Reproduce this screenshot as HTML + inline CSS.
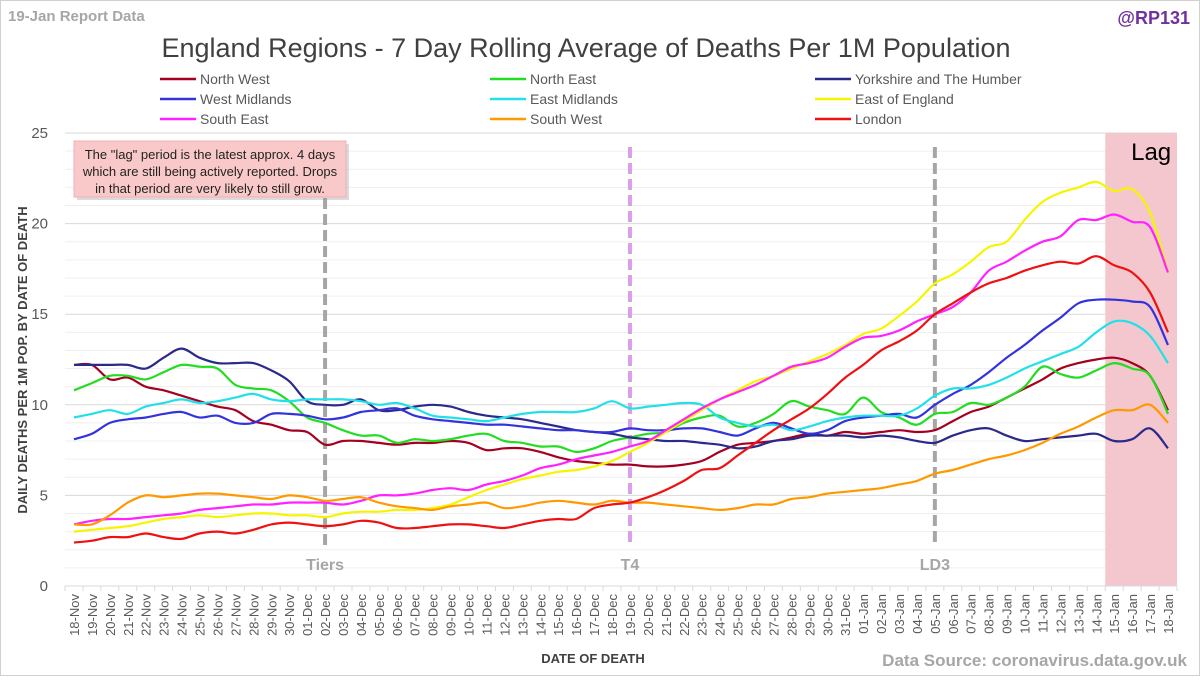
<!DOCTYPE html>
<html><head><meta charset="utf-8"><style>
html,body{margin:0;padding:0;background:#fff;}
body{width:1200px;height:676px;overflow:hidden;font-family:"Liberation Sans",sans-serif;}
</style></head><body>
<svg id="chart" width="1200" height="676" viewBox="0 0 1200 676" xmlns="http://www.w3.org/2000/svg">
<rect x="0.5" y="0.5" width="1199" height="675" fill="#fff" stroke="#d0d0d0"/>
<text x="8" y="21" font-size="15" font-weight="bold" fill="#a6a6a6">19-Jan Report Data</text>
<text x="1190" y="24" font-size="18" font-weight="bold" fill="#7030a0" text-anchor="end">@RP131</text>
<text x="586" y="57" font-size="27" fill="#404040" text-anchor="middle">England Regions - 7 Day Rolling Average of Deaths Per 1M Population</text>
<g id="grid"></g>
<rect id="lagband" fill="#f4c7cf"/>
<text id="lagtext" font-size="24" fill="#000" text-anchor="middle">Lag</text>
<g id="events"></g>
<g id="series"></g>
<g id="axes"></g>
<g id="legend"></g>
<g>
<rect x="77" y="144" width="272" height="56" fill="#999" opacity="0.35"/>
<rect x="74" y="141" width="272" height="56" fill="#f9c9c9" stroke="#f0b0b0"/>
<text x="210" y="159" font-size="13" fill="#222" text-anchor="middle">The "lag" period is the latest approx. 4 days</text>
<text x="210" y="176" font-size="13" fill="#222" text-anchor="middle">which are still being actively reported. Drops</text>
<text x="210" y="193" font-size="13" fill="#222" text-anchor="middle">in that period are very likely to still grow.</text>
</g>
<text x="0" y="0" transform="translate(27,360) rotate(-90)" font-size="13" font-weight="bold" fill="#404040" text-anchor="middle">DAILY DEATHS PER 1M POP. BY DATE OF DEATH</text>
<text x="593" y="663" font-size="13" font-weight="bold" fill="#404040" text-anchor="middle">DATE OF DEATH</text>
<text x="1187" y="666" font-size="17" font-weight="bold" fill="#a6a6a6" text-anchor="end">Data Source: coronavirus.data.gov.uk</text>
</svg>
<script>
const dates = ["18-Nov","19-Nov","20-Nov","21-Nov","22-Nov","23-Nov","24-Nov","25-Nov","26-Nov","27-Nov","28-Nov","29-Nov","30-Nov","01-Dec","02-Dec","03-Dec","04-Dec","05-Dec","06-Dec","07-Dec","08-Dec","09-Dec","10-Dec","11-Dec","12-Dec","13-Dec","14-Dec","15-Dec","16-Dec","17-Dec","18-Dec","19-Dec","20-Dec","21-Dec","22-Dec","23-Dec","24-Dec","25-Dec","26-Dec","27-Dec","28-Dec","29-Dec","30-Dec","31-Dec","01-Jan","02-Jan","03-Jan","04-Jan","05-Jan","06-Jan","07-Jan","08-Jan","09-Jan","10-Jan","11-Jan","12-Jan","13-Jan","14-Jan","15-Jan","16-Jan","17-Jan","18-Jan"];
const yTicks = [0,5,10,15,20,25];
const seriesNames = ["North West","North East","Yorkshire and The Humber","West Midlands","East Midlands","East of England","South East","South West","London"];
const seriesColors = ["#a50021","#22dd22","#2a2a8a","#3333dd","#22e0e8","#f5f500","#ff22ff","#ff9900","#ee1111"];
const northWest = [12.2,12.2,11.4,11.5,11.0,10.8,10.5,10.2,9.9,9.7, 9.1,8.9,8.6,8.5,7.8,8.0,8.0,7.9,7.8,7.9, 7.9,8.0,7.9,7.5,7.6,7.6,7.4,7.1,6.9,6.8, 6.7,6.7,6.6,6.6,6.7,6.9,7.4,7.8,7.9,8.0, 8.2,8.4,8.3,8.5,8.4,8.5,8.6,8.5,8.6,9.1, 9.6,9.9,10.4,10.9,11.4,12.0,12.3,12.5,12.6,12.3, 11.6,9.7];
const northEast = [10.8,11.2,11.6,11.6,11.4,11.8,12.2,12.1,12.0,11.1, 10.9,10.8,10.2,9.3,9.0,8.6,8.3,8.3,7.9,8.1, 8.0,8.1,8.3,8.4,8.0,7.9,7.7,7.7,7.4,7.6, 8.0,8.2,8.4,8.5,9.0,9.3,9.4,8.8,9.0,9.5, 10.2,9.9,9.7,9.5,10.4,9.6,9.3,8.9,9.5,9.6, 10.1,10.0,10.4,11.0,12.1,11.7,11.5,11.9,12.3,12.0, 11.6,9.5];
const yorkshire = [12.2,12.2,12.2,12.2,12.0,12.6,13.1,12.6,12.3,12.3, 12.3,11.9,11.3,10.2,10.0,10.0,10.3,9.7,9.7,9.9, 10.0,9.9,9.6,9.4,9.3,9.2,9.0,8.8,8.6,8.5, 8.4,8.2,8.1,8.0,8.0,7.9,7.8,7.6,7.7,8.0, 8.1,8.3,8.3,8.3,8.2,8.3,8.2,8.0,7.9,8.3, 8.6,8.7,8.3,8.0,8.1,8.2,8.3,8.4,8.0,8.1, 8.7,7.6];
const westMidlands = [8.1,8.4,9.0,9.2,9.3,9.5,9.6,9.3,9.4,9.0, 9.0,9.5,9.5,9.4,9.2,9.3,9.6,9.7,9.8,9.4, 9.2,9.1,9.0,8.9,8.9,8.8,8.7,8.6,8.6,8.5, 8.5,8.7,8.6,8.6,8.7,8.7,8.5,8.3,8.7,9.0, 8.7,8.4,8.6,9.1,9.3,9.4,9.5,9.3,10.0,10.6, 11.1,11.8,12.6,13.3,14.1,14.8,15.6,15.8,15.8,15.7, 15.4,13.3];
const eastMidlands = [9.3,9.5,9.7,9.5,9.9,10.1,10.3,10.1,10.2,10.4, 10.6,10.3,10.2,10.3,10.3,10.3,10.2,10.0,10.1,9.8, 9.4,9.3,9.2,9.1,9.3,9.5,9.6,9.6,9.6,9.8, 10.2,9.8,9.9,10.0,10.1,10.0,9.3,9.0,8.8,8.9, 8.6,8.8,9.1,9.3,9.4,9.4,9.4,9.8,10.5,10.9, 10.9,11.1,11.5,12.0,12.4,12.8,13.2,14.0,14.6,14.5, 13.8,12.3];
const eastOfEngland = [3.0,3.1,3.2,3.3,3.5,3.7,3.8,3.9,3.8,3.9, 4.0,4.0,3.9,3.9,3.8,4.0,4.1,4.1,4.2,4.2, 4.3,4.5,4.9,5.3,5.6,5.9,6.1,6.3,6.4,6.6, 6.9,7.4,7.9,8.5,9.1,9.7,10.3,10.8,11.3,11.6, 12.0,12.4,12.8,13.3,13.9,14.2,14.9,15.7,16.7,17.2, 17.9,18.7,19.0,20.2,21.2,21.7,22.0,22.3,21.8,21.9, 20.6,17.3];
const southEast = [3.4,3.6,3.7,3.7,3.8,3.9,4.0,4.2,4.3,4.4, 4.5,4.5,4.6,4.6,4.6,4.5,4.7,5.0,5.0,5.1, 5.3,5.4,5.3,5.6,5.8,6.1,6.5,6.7,7.0,7.2, 7.4,7.7,8.0,8.6,9.2,9.8,10.3,10.7,11.1,11.6, 12.1,12.3,12.6,13.2,13.7,13.8,14.1,14.6,15.0,15.4, 16.2,17.4,17.9,18.5,19.0,19.3,20.2,20.2,20.5,20.1, 19.8,17.3];
const southWest = [3.4,3.4,3.9,4.6,5.0,4.9,5.0,5.1,5.1,5.0, 4.9,4.8,5.0,4.9,4.7,4.8,4.9,4.6,4.4,4.3, 4.2,4.4,4.5,4.6,4.3,4.4,4.6,4.7,4.6,4.5, 4.7,4.6,4.6,4.5,4.4,4.3,4.2,4.3,4.5,4.5, 4.8,4.9,5.1,5.2,5.3,5.4,5.6,5.8,6.2,6.4, 6.7,7.0,7.2,7.5,7.9,8.4,8.8,9.3,9.7,9.7, 10.0,9.0];
const london = [2.4,2.5,2.7,2.7,2.9,2.7,2.6,2.9,3.0,2.9, 3.1,3.4,3.5,3.4,3.3,3.4,3.6,3.5,3.2,3.2, 3.3,3.4,3.4,3.3,3.2,3.4,3.6,3.7,3.7,4.3, 4.5,4.6,4.9,5.3,5.8,6.4,6.5,7.2,7.9,8.6, 9.2,9.8,10.6,11.5,12.2,13.0,13.5,14.1,15.0,15.6, 16.2,16.7,17.0,17.4,17.7,17.9,17.8,18.2,17.7,17.3, 16.2,14.0];
const allSeries = [northWest,northEast,yorkshire,westMidlands,eastMidlands,eastOfEngland,southEast,southWest,london];
const events = [["Tiers","02-Dec","#a6a6a6",198],["T4","19-Dec","#d9a0e6",147],["LD3","05-Jan","#a6a6a6",147]];
const lagStart = "15-Jan";

const NS="http://www.w3.org/2000/svg";
const X0=65, X1=1177, Y0=586, Y1=133, YMAX=25;
const step=(X1-X0)/dates.length;
const xPos=i=>X0+step*(i+0.5);
const yPos=v=>Y0-(v/YMAX)*(Y0-Y1);
function mk(tag,attrs,parent){const e=document.createElementNS(NS,tag);for(const k in attrs)e.setAttribute(k,attrs[k]);parent.appendChild(e);return e;}
const grid=document.getElementById('grid');
for(let v=1;v<=YMAX;v++){
  const l=mk('line',{x1:X0,x2:X1,y1:yPos(v),y2:yPos(v),stroke:v%5===0?'#d9d9d9':'#efefef','stroke-width':1},grid);
  
  
}
const li=dates.indexOf(lagStart);
const band=document.getElementById('lagband');
band.setAttribute('x',X0+step*li);band.setAttribute('y',Y1);band.setAttribute('width',X1-(X0+step*li));band.setAttribute('height',Y0-Y1);
const lt=document.getElementById('lagtext');
lt.setAttribute('x',X0+step*li+(X1-X0-step*li)/2+10);lt.setAttribute('y',160);
const ev=document.getElementById('events');
events.forEach(e=>{
  const x=xPos(dates.indexOf(e[1]));
  const l=mk('line',{x1:x,x2:x,y1:e[3],y2:545,stroke:e[2],'stroke-width':4,'stroke-dasharray':'11 5'},ev);
  
  
  const t=mk('text',{x:x,y:570,'font-size':16,'font-weight':'bold',fill:'#a6a6a6','text-anchor':'middle'},ev);
  t.textContent=e[0];
  
  
});
function smooth(pts){let d=`M${pts[0][0]},${pts[0][1]}`;for(let i=0;i<pts.length-1;i++){const p0=pts[i-1]||pts[i],p1=pts[i],p2=pts[i+1],p3=pts[i+2]||p2;const c1=[p1[0]+(p2[0]-p0[0])/6,p1[1]+(p2[1]-p0[1])/6],c2=[p2[0]-(p3[0]-p1[0])/6,p2[1]-(p3[1]-p1[1])/6];d+=` C${c1[0].toFixed(1)},${c1[1].toFixed(1)} ${c2[0].toFixed(1)},${c2[1].toFixed(1)} ${p2[0].toFixed(1)},${p2[1].toFixed(1)}`;}return d;}
const sg=document.getElementById('series');
allSeries.forEach((s,k)=>{
  const pts=s.map((v,i)=>[xPos(i),yPos(v)]);
  const p=mk('path',{d:smooth(pts),fill:'none',stroke:seriesColors[k],'stroke-width':2.2,'stroke-linejoin':'round'},sg);
  
  
});
const ax=document.getElementById('axes');
mk('line',{x1:X0,x2:X1,y1:Y0,y2:Y0,stroke:'#d9d9d9','stroke-width':1},ax);
for(let i=0;i<=dates.length;i++){mk('line',{x1:X0+step*i,x2:X0+step*i,y1:Y0,y2:Y0+5,stroke:'#d9d9d9'},ax);}
dates.forEach((d,i)=>{
  const x=xPos(i);
  const t=mk('text',{x:0,y:0,transform:`translate(${x+5},${Y0+8}) rotate(-90)`,'font-size':13,fill:'#595959','text-anchor':'end'},ax);
  t.textContent=d;
  
  
});
yTicks.forEach(v=>{
  const t=mk('text',{x:48,y:yPos(v)+5,'font-size':15,fill:'#595959','text-anchor':'end'},ax);
  t.textContent=v;
  
  
});
const lg=document.getElementById('legend');
const colX=[160,490,815], rowY=[79,99,119];
seriesNames.forEach((n,k)=>{
  const cx=colX[k%3], cy=rowY[Math.floor(k/3)];
  const g=mk('g',{},lg);
  
  
  mk('line',{x1:cx,x2:cx+36,y1:cy,y2:cy,stroke:seriesColors[k],'stroke-width':2.5},g);
  const t=mk('text',{x:cx+40,y:cy+5,'font-size':14,fill:'#595959'},g);
  t.textContent=n;
});
</script>
</body></html>
